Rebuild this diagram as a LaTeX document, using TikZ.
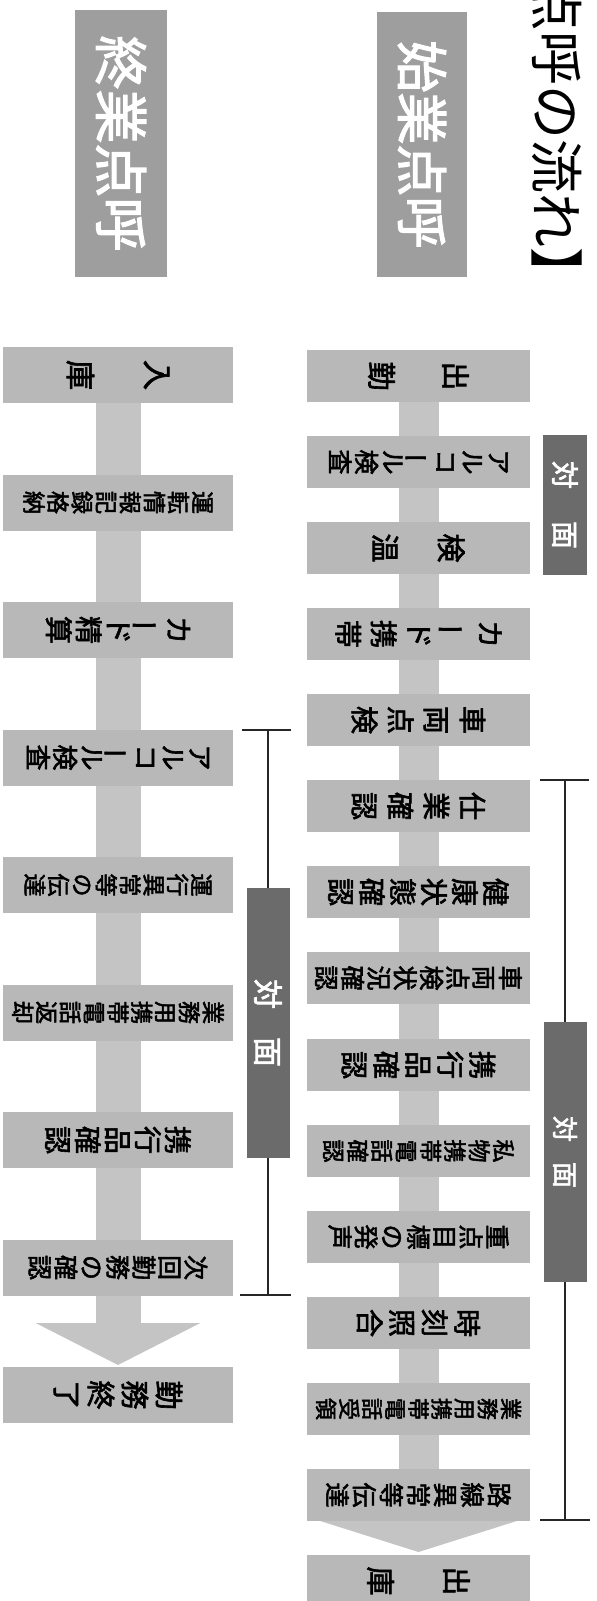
\documentclass[tikz,border=0pt]{standalone}
\usepackage{fontspec}
\usepackage{graphicx}
\usetikzlibrary{arrows.meta}
\newfontfamily\jp{Noto Sans CJK JP}
\newfontfamily\jpb{Noto Sans CJK JP}[FakeBold=2.2]
\definecolor{stepcol}{gray}{0.72}
\definecolor{barcol}{gray}{0.77}
\definecolor{labcol}{gray}{0.62}
\definecolor{facecol}{gray}{0.42}
\makeatletter
\newcommand\vstack[3]{\vbox{\fontsize{#2pt}{#1pt}\selectfont\baselineskip=#1pt\lineskiplimit=-1000pt\lineskip=0pt\@tfor\vs@c:=#3\do{\hbox to #2pt{\hss\vs@c\hss}}}}
\makeatother
\newcommand\cho{\rotatebox[origin=c]{90}{ー}}
\newcommand\vl[3]{\rotatebox{-90}{\vstack{#1}{#2}{#3}}}
\begin{document}
\begin{tikzpicture}[x=1pt,y=-1pt,
  stepbox/.style={fill=stepcol,minimum width=223pt,minimum height=52pt,inner sep=0pt,font=\jpb,text=black},
  lstep/.style={fill=stepcol,minimum width=230pt,minimum height=56pt,inner sep=0pt,font=\jpb,text=black},
  labbox/.style={fill=labcol,inner sep=0pt,font=\jpb,text=white},
  facebox/.style={fill=facecol,inner sep=0pt,font=\jpb,text=white},
  brk/.style={draw=black!85,line width=1.8pt},
  ubar/.style={draw=barcol,line width=40pt,-{Triangle[width=202pt,length=32pt]}},
  lbar/.style={draw=barcol,line width=45pt,-{Triangle[width=163pt,length=42pt]}}]
\useasboundingbox (0,0) rectangle (597,1601);
\clip (0,0) rectangle (597,1601);
% title
\node[inner sep=0pt,font=\jp] (title) at (557,112) {\rotatebox{-90}{\fontsize{54pt}{54pt}\selectfont 【点呼の流れ】}};
% section labels
\node[labbox,minimum width=90pt,minimum height=265pt] (s1) at (422,144.5) {\rotatebox{-90}{\fontsize{52pt}{52pt}\selectfont 始業点呼}};
\node[labbox,minimum width=92pt,minimum height=267pt] (s2) at (121,143.5) {\rotatebox{-90}{\fontsize{54pt}{54pt}\selectfont 終業点呼}};
% flow bars (behind the steps)
\path (418.5,376) coordinate (pu1) (418.5,1581) coordinate (pu15);
\path (118,375) coordinate (pl1) (118,1395) coordinate (pl9);
\draw[ubar] (pu1) -- ([yshift=29pt]pu15);
\draw[lbar] (pl1) -- ([yshift=30pt]pl9);
% upper steps
\node[stepbox] (u1) at (418.5,376) {\vl{37}{29}{出　勤}};
\node[stepbox] (u2) at (418.5,462) {\vl{26.5}{25}{アルコ\cho ル検査}};
\node[stepbox] (u3) at (418.5,548) {\vl{33}{29}{検　温}};
\node[stepbox] (u4) at (418.5,634) {\vl{35.5}{28}{カ\cho ド携帯}};
\node[stepbox] (u5) at (418.5,720) {\vl{36}{28}{車両点検}};
\node[stepbox] (u6) at (418.5,806) {\vl{36}{28}{仕業確認}};
\node[stepbox] (u7) at (418.5,892) {\vl{31}{28}{健康状態確認}};
\node[stepbox] (u8) at (418.5,978) {\vl{26.3}{25}{車両点検状況確認}};
\node[stepbox] (u9) at (418.5,1065) {\vl{32}{28}{携行品確認}};
\node[stepbox] (u10) at (418.5,1151) {\vl{24.3}{23}{私物携帯電話確認}};
\node[stepbox] (u11) at (418.5,1237) {\vl{26.2}{25}{重点目標の発声}};
\node[stepbox] (u12) at (418.5,1323) {\vl{32.5}{28}{時刻照合}};
\node[stepbox] (u13) at (418.5,1409) {\vl{23.1}{22}{業務用携帯電話受領}};
\node[stepbox] (u14) at (418.5,1495) {\vl{27}{25}{路線異常等伝達}};
\node[stepbox] (u15) at (418.5,1581) {\vl{38}{29}{出　庫}};
% lower steps
\node[lstep] (l1) at (118,375) {\vl{38.5}{30}{入　庫}};
\node[lstep] (l2) at (118,502.5) {\vl{24.1}{23}{運転情報記録格納}};
\node[lstep] (l3) at (118,630) {\vl{30}{28}{カ\cho ド精算}};
\node[lstep] (l4) at (118,757.5) {\vl{27}{26}{アルコ\cho ル検査}};
\node[lstep] (l5) at (118,885) {\vl{23.8}{23}{運行異常等の伝達}};
\node[lstep] (l6) at (118,1012.5) {\vl{23.8}{23}{業務用携帯電話返却}};
\node[lstep] (l7) at (118,1140) {\vl{30}{28}{携行品確認}};
\node[lstep] (l8) at (118,1267.5) {\vl{26}{25}{次回勤務の確認}};
\node[lstep] (l9) at (118,1395) {\vl{34}{29}{勤務終了}};
% face-to-face markers
\node[facebox,minimum width=44pt,minimum height=140pt] (f0) at (565,505) {\rotatebox{-90}{\fontsize{28pt}{28pt}\selectfont 対\hspace{32pt}面}};
\node[facebox,minimum width=43pt,minimum height=260pt] (f1) at (565,1152) {\rotatebox{-90}{\fontsize{26pt}{26pt}\selectfont 対\hspace{20pt}面}};
\node[facebox,minimum width=43pt,minimum height=270pt] (f2) at (268,1023) {\rotatebox{-90}{\fontsize{30pt}{30pt}\selectfont 対\hspace{28pt}面}};
% brackets
\coordinate (ut) at (565,780);
\coordinate (ub) at (565,1520);
\coordinate (lt) at (268,730);
\coordinate (lb) at (268,1295);
\draw[brk] (ut) -- (f1.north);
\draw[brk] (f1.south) -- (ub);
\draw[brk] ([xshift=-25pt]ut) -- ([xshift=24pt]ut);
\draw[brk] ([xshift=-25pt]ub) -- ([xshift=25pt]ub);
\draw[brk] (lt) -- (f2.north);
\draw[brk] (f2.south) -- (lb);
\draw[brk] ([xshift=-26pt]lt) -- ([xshift=23pt]lt);
\draw[brk] ([xshift=-28pt]lb) -- ([xshift=23pt]lb);
\end{tikzpicture}
\end{document}
